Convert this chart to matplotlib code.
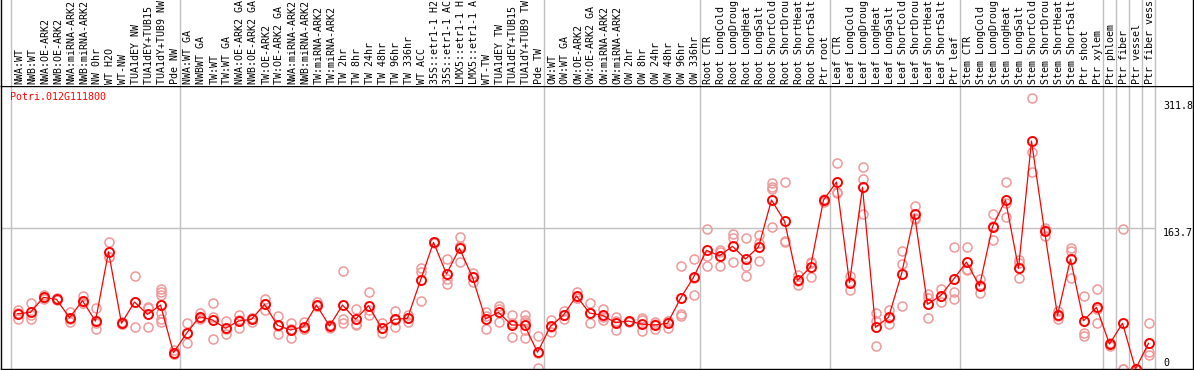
import matplotlib
matplotlib.use("Agg")
import matplotlib.pyplot as plt

# Sample labels (one column each)
labels = [
    "NWA:WT", "NWB:WT", "NWA:OE-ARK2", "NWB:OE-ARK2", "NWA:miRNA-ARK2", "NWB:miRNA-ARK2",
    "NW 0hr", "WT H2O", "WT-NW", "TUA1dEY NW", "TUA1dEY+TUB15 NW", "TUA1dY+TUB9 NW", "Pde NW",
    "NWA:WT GA", "NWBWT GA", "TW:WT", "TW:WT GA", "NWA:OE-ARK2 GA", "NWB:OE-ARK2 GA",
    "TW:OE-ARK2", "TW:OE-ARK2 GA", "NWA:miRNA-ARK2", "NWB:miRNA-ARK2", "TW:miRNA-ARK2",
    "TW:miRNA-ARK2", "TW 2hr", "TW 8hr", "TW 24hr", "TW 48hr", "TW 96hr", "TW 336hr",
    "WT ACC", "35S::etr1-1 H2O", "35S::etr1-1 ACC", "LMX5::etr1-1 H2O", "LMX5::etr1-1 ACC",
    "WT-TW", "TUA1dEY TW", "TUA1dEY+TUB15 TW", "TUA1dY+TUB9 TW", "Pde TW",
    "OW:WT", "OW:WT GA", "OW:OE-ARK2", "OW:OE-ARK2 GA", "OW:miRNA-ARK2", "OW:miRNA-ARK2",
    "OW 2hr", "OW 8hr", "OW 24hr", "OW 48hr", "OW 96hr", "OW 336hr",
    "Root CTR", "Root LongCold", "Root LongDrought", "Root LongHeat", "Root LongSalt",
    "Root ShortCold", "Root ShortDrought", "Root ShortHeat", "Root ShortSalt", "Ptr root",
    "Leaf CTR", "Leaf LongCold", "Leaf LongDrought", "Leaf LongHeat", "Leaf LongSalt",
    "Leaf ShortCold", "Leaf ShortDrought", "Leaf ShortHeat", "Leaf ShortSalt", "Ptr leaf",
    "Stem CTR", "Stem LongCold", "Stem LongDrought", "Stem LongHeat", "Stem LongSalt",
    "Stem ShortCold", "Stem ShortDrought", "Stem ShortHeat", "Stem ShortSalt", "Ptr shoot",
    "Ptr xylem", "Ptr phloem", "Ptr fiber", "Ptr vessel", "Ptr fiber vessel",
]

# Mean expression per sample
means = [
    64.2, 65.8, 83.2, 80.9, 59.6, 79.3, 55.7, 136.2, 53.1, 77.8, 63.5, 74.3, 18.9,
    41.4, 60.7, 56.9, 47.3, 55.7, 57.7, 75.1, 50.7, 45.3, 49.1, 74.3, 49.9, 74.3,
    57.7, 73.5, 47.6, 57.7, 58.9, 103.0, 147.1, 110.3, 140.1, 106.5, 58.1, 65.8,
    51.1, 51.1, 19.4, 49.6, 62.7, 84.8, 65.0, 62.3, 53.8, 55.7, 52.2, 51.1, 53.1,
    82.1, 106.5, 137.8, 131.5, 142.5, 127.7, 141.6, 196.2, 171.8, 103.0, 118.4,
    196.2, 217.1, 100.2, 211.0, 48.4, 60.0, 110.3, 179.6, 75.1, 85.1, 104.1, 124.2,
    96.4, 165.2, 196.2, 116.9, 264.7, 160.2, 62.3, 127.7, 56.1, 71.6, 29.0, 53.1,
    0.0, 29.8,
]

# Replicate values per sample
replicates = [
    [68.5, 58.4, 65.0], [76.3, 58.4, 63.0], [86.3, 81.0, 82.0], [81.0, 80.0, 82.0],
    [66.2, 54.2, 58.5], [85.1, 76.3, 76.5], [70.5, 53.1, 46.8], [147.8, 130.4, 130.5],
    [54.9, 52.0, 52.5], [107.6, 48.4, 77.5], [70.5, 48.4, 71.5],
    [92.5, 89.4, 86.3, 64.7, 57.7, 55.0], [22.1, 17.0, 17.5],
    [53.1, 29.8, 41.4], [64.7, 58.5, 59.0], [76.3, 34.5, 60.0], [55.7, 40.3, 46.0],
    [62.7, 48.0, 56.5], [54.9, 59.0, 59.0], [81.3, 68.5, 75.5], [61.5, 40.3, 50.3],
    [53.1, 35.6, 47.0], [54.2, 46.5, 46.6], [77.4, 72.8, 72.7], [48.0, 50.8, 51.0],
    [113.8, 57.7, 53.1], [69.3, 51.1, 52.6], [89.4, 62.3, 68.8], [53.1, 42.1, 47.6],
    [67.3, 48.4, 57.4], [62.7, 54.2, 59.8], [117.6, 113.0, 79.0], [147.0, 147.5, 146.8],
    [127.4, 104.1, 98.3], [153.6, 123.9, 142.8], [111.5, 101.4, 106.6],
    [66.5, 46.4, 61.4], [73.1, 54.2, 70.0], [62.7, 37.5, 53.0],
    [62.7, 56.9, 45.3, 35.6, 55.0], [38.7, 0.8, 18.7], [56.9, 43.0, 48.9],
    [67.7, 57.7, 62.7], [89.8, 82.0, 82.6], [76.3, 53.1, 65.6], [69.7, 56.9, 60.3],
    [60.7, 45.3, 55.4], [55.0, 56.0, 56.0], [58.9, 56.9, 44.1], [54.9, 46.1, 52.3],
    [56.1, 47.3, 55.9], [119.6, 63.9, 61.9], [127.4, 85.9, 106.2],
    [162.2, 131.5, 119.9], [138.2, 119.9, 136.4], [156.4, 151.7, 123.9],
    [151.7, 119.9, 108.0], [155.6, 145.9, 125.0], [215.6, 211.7, 209.0, 165.2],
    [216.8, 149.0, 147.8], [109.1, 97.5, 102.4], [124.6, 122.7, 107.2],
    [196.2, 194.3, 198.0], [238.8, 205.9, 203.9], [108.0, 91.7, 100.9],
    [234.2, 220.2, 179.6], [65.4, 55.7, 26.7], [68.5, 51.9, 59.6],
    [136.6, 121.9, 73.1], [189.2, 175.0, 174.6], [87.1, 82.1, 58.9], [92.9, 78.1, 84.3],
    [141.3, 89.4, 80.9], [141.3, 114.9, 116.4], [104.1, 87.9, 97.2],
    [179.6, 149.8, 166.2], [216.8, 192.4, 176.1], [126.6, 122.7, 105.3],
    [314.3, 252.3, 228.4], [164.1, 154.8, 161.7], [67.3, 57.7, 62.0],
    [140.8, 137.0, 105.3], [85.1, 42.1, 38.7], [92.5, 53.1, 69.2], [26.3, 30.4, 30.3],
    [162.2, 0.0, 0.0], [0.0, 0.0, 0.0], [53.1, 20.1, 16.3],
]

# Column indices where a new group starts
group_starts = [0, 13, 41, 53, 63, 73, 84, 85, 86, 87, 88]
ref_values = [311.8, 163.7, 0]
gene = "Potri.012G111800"

W, H = 1194, 370
fig = plt.figure(figsize=(W / 100, H / 100), dpi=100)
mono = "DejaVu Sans Mono"
n = len(labels)
max_chars = 14  # header only has room for this many characters

# pixel layout
x_left_px, x_right_px = 1, 1193
col_px, first_col_px = 13, 11
top_px, bottom_px = 86, 369
xlim = (-0.5 - (first_col_px - x_left_px) / col_px,
        n - 0.5 + (x_right_px - (first_col_px + n * col_px)) / col_px)
ymax = (bottom_px - top_px) / 0.861

ax = fig.add_axes([x_left_px / W, (H - bottom_px) / H,
                   (x_right_px - x_left_px) / W, (bottom_px - top_px) / H])
hd = fig.add_axes([x_left_px / W, (H - top_px) / H,
                   (x_right_px - x_left_px) / W, top_px / H], sharex=ax)

ax.set_xlim(*xlim)
ax.set_ylim(0, ymax)
for a in (ax, hd):
    a.set_xticks([])
    a.set_yticks([])
    for s in a.spines.values():
        s.set_color("black")
        s.set_linewidth(1.0)
    for g in group_starts:
        a.axvline(g - 0.5, color="#c0c0c0", lw=1.0, zorder=0)
hd.spines["top"].set_visible(False)
hd.spines["bottom"].set_visible(False)
hd.set_ylim(0, 1)

ax.hlines(ref_values[1], xlim[0], n - 0.5, color="#c0c0c0", lw=1.0, zorder=0)

# replicate points
for i, reps in enumerate(replicates):
    ax.plot([i] * len(reps), reps, "o", ms=6.5, mfc="none", mec="#f09898",
            mew=1.1, zorder=2)

# mean line
ax.plot(range(n), means, "-o", color="#ff0000", lw=0.9, ms=6.5, mfc="none",
        mec="#ff0000", mew=1.4, zorder=3)

# header labels (cut to what fits, like the original)
for i, lab in enumerate(labels):
    hd.text(i + 0.15, 2 / top_px, lab[:max_chars], rotation=90, ha="center",
            va="bottom", family=mono, fontsize=7.2, clip_on=True)

# right side value labels
tx = n - 0.5 + 8 / col_px
ax.text(tx, ref_values[0], "311.8", ha="left", va="top", family=mono, fontsize=7.2)
ax.text(tx, ref_values[1], "163.7", ha="left", va="top", family=mono, fontsize=7.2)
ax.text(tx, 1.5, "0", ha="left", va="bottom", family=mono, fontsize=7.2)

fig.text(10 / W, 1 - 92 / H, gene, color="#ff0000", family=mono, fontsize=7.2,
         ha="left", va="top")

fig.savefig("out.png", dpi=100)
